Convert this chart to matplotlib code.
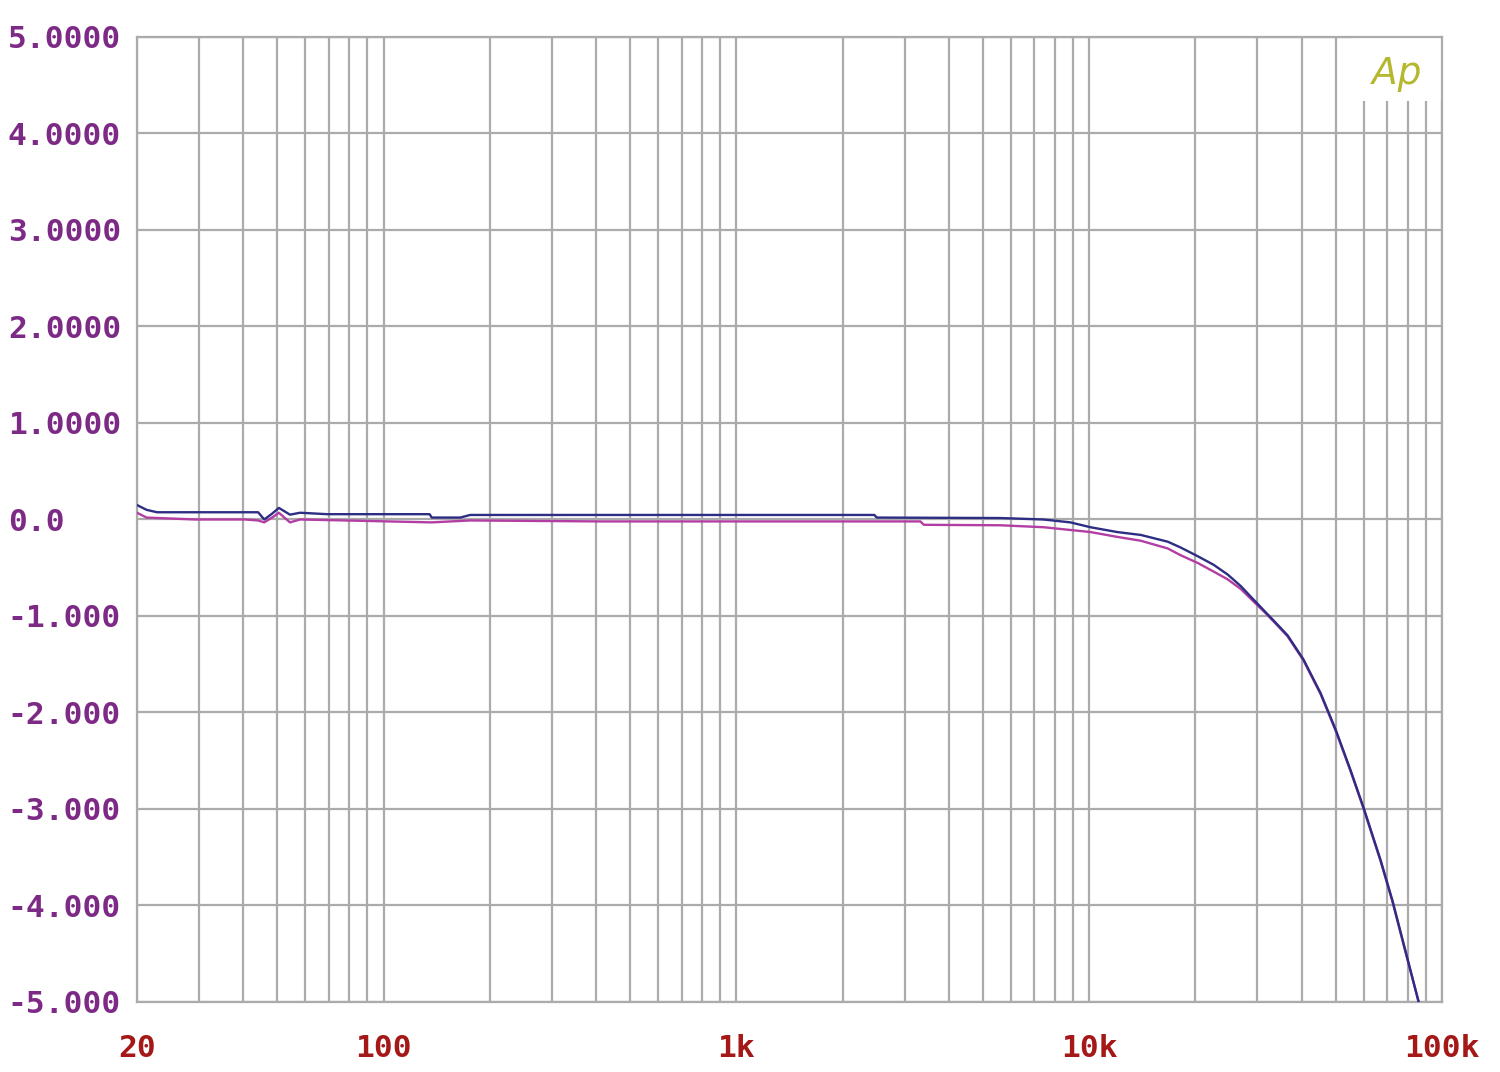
import numpy as np
import matplotlib.pyplot as plt
from matplotlib.ticker import FixedLocator, LogLocator, NullFormatter
from matplotlib.patches import Rectangle

# frequency response (Hz, dB)
freq_blue = [20, 21.3, 22.8, 44.1, 45.9, 48.3, 50.5, 54.3, 58.0, 69.2, 135, 137, 165, 176,
             411, 791, 1518, 2462, 2500, 5611, 7418, 8850, 10080, 12000, 14000, 16700,
             18160, 20300, 22540, 24690, 26900, 29060, 31620, 34000, 36500, 40500, 45300,
             50000, 55100, 60000, 67000, 72400, 77900, 85900]
gain_blue = [0.15, 0.10, 0.075, 0.075, 0.0, 0.06, 0.12, 0.05, 0.07, 0.055, 0.055, 0.02, 0.02,
             0.047, 0.047, 0.047, 0.047, 0.047, 0.02, 0.015, 0.0, -0.03, -0.08, -0.13, -0.16,
             -0.23, -0.29, -0.38, -0.47, -0.57, -0.69, -0.82, -0.96, -1.08, -1.20, -1.45,
             -1.80, -2.18, -2.60, -2.99, -3.53, -3.95, -4.40, -5.0]

freq_mag = [20, 21.3, 29.2, 40.5, 44.1, 45.9, 48.3, 50.5, 54.3, 58.0, 77.8, 137, 176, 411,
            791, 1518, 3324, 3400, 5611, 7418, 10080, 12000, 14000, 16700, 18160, 20300,
            22540, 24690, 26900, 29060, 31620, 34000, 36500, 40500, 45300, 50000, 55100,
            60000, 67000, 72400, 77900, 85900]
gain_mag = [0.07, 0.02, 0.0, 0.0, -0.01, -0.03, 0.02, 0.07, -0.03, 0.0, -0.01, -0.03, -0.01,
            -0.02, -0.02, -0.02, -0.02, -0.055, -0.06, -0.08, -0.13, -0.18, -0.22, -0.30,
            -0.37, -0.45, -0.54, -0.62, -0.72, -0.84, -0.97, -1.09, -1.21, -1.46, -1.81,
            -2.19, -2.61, -3.0, -3.54, -3.96, -4.41, -5.0]

y_ticks = [5, 4, 3, 2, 1, 0, -1, -2, -3, -4, -5]
y_labels = ['5.0000', '4.0000', '3.0000', '2.0000', '1.0000', '0.0',
            '-1.000', '-2.000', '-3.000', '-4.000', '-5.000']
x_ticks = [20, 100, 1000, 10000, 100000]
x_labels = ['20', '100', '1k', '10k', '100k']

GRID = '#ababab'

fig = plt.figure(figsize=(15, 10.72), dpi=100)
ax = fig.add_axes([0.0913, 0.0653, 0.87, 0.9002])

ax.plot(freq_mag, gain_mag, color='#b23ea3', lw=1.7, zorder=3)
ax.plot(freq_blue, gain_blue, color='#2d2d84', lw=1.7, zorder=4)

ax.set_xscale('log')
ax.set_xlim(20, 100000)
ax.set_ylim(-5, 5)

ax.xaxis.set_major_locator(FixedLocator(x_ticks))
ax.xaxis.set_minor_locator(LogLocator(base=10, subs=np.arange(2, 10)))
ax.xaxis.set_minor_formatter(NullFormatter())
ax.set_xticklabels(x_labels)
ax.set_yticks(y_ticks)
ax.set_yticklabels(y_labels)

ax.set_axisbelow(True)
ax.grid(which='both', color=GRID, lw=1.6)
ax.tick_params(which='both', length=0)
ax.tick_params(axis='y', pad=93, labelsize=22.5, labelcolor='#7d2a86')
ax.tick_params(axis='x', pad=23, labelsize=22.5, labelcolor='#a41818')
for lab in ax.get_yticklabels():
    lab.set_horizontalalignment('left')
    lab.set_family('DejaVu Sans Mono')
    lab.set_weight('bold')
for lab in ax.get_xticklabels():
    lab.set_family('DejaVu Sans Mono')
    lab.set_weight('bold')

for sp in ax.spines.values():
    sp.set_color(GRID)
    sp.set_linewidth(1.6)

# white box behind the logo hides the grid there
ax.add_patch(Rectangle((55800, 4.34), 100000 - 55800, 0.66, facecolor='white',
                       edgecolor='none', zorder=1.5))
ax.text(0.9655, 0.962, 'Ap', transform=ax.transAxes, ha='center', va='center',
        fontsize=27, style='italic', color='#b5b82e', zorder=5)

fig.savefig('out.png', dpi=100)
